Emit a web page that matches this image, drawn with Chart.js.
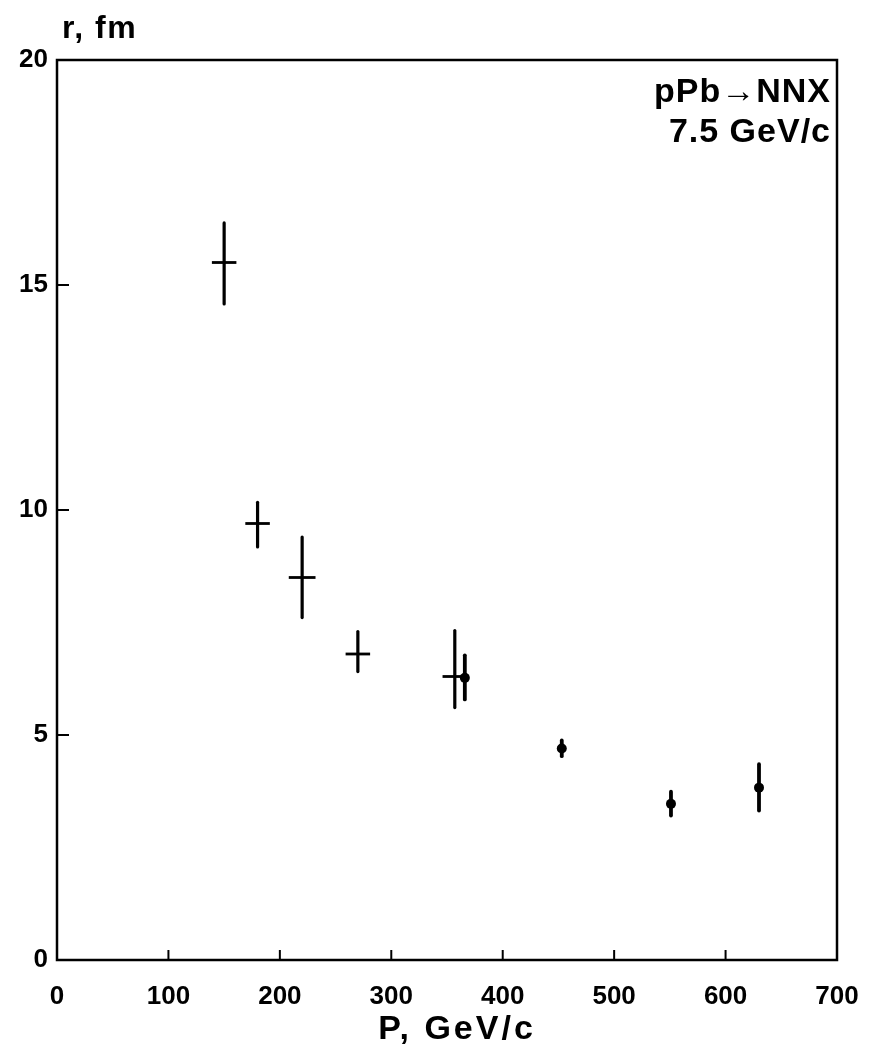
<html>
<head>
  <meta charset="UTF-8">
  <script src="https://cdn.jsdelivr.net/npm/chart.js@4.4.0/dist/chart.umd.min.js"></script>
  <style>
    body { margin: 0; background: #fff; }
    #wrap { width: 869px; height: 1055px; }
  </style>
</head>
<body>
  <div id="wrap"><canvas id="chart"></canvas></div>
  <script>
    // crosses (with momentum bin width)
    const crossP = [150, 180, 220, 270, 357];
    const crossR = [15.5, 9.7, 8.5, 6.8, 6.3];
    const crossUp = [0.88, 0.47, 0.9, 0.5, 1.02];
    const crossDown = [0.92, 0.52, 0.89, 0.39, 0.69];
    const crossPErr = [11, 11, 12, 11, 11];

    // filled dots
    const dotP = [366, 453, 551, 630];
    const dotR = [6.27, 4.7, 3.47, 3.83];
    const dotUp = [0.5, 0.18, 0.27, 0.52];
    const dotDown = [0.48, 0.17, 0.26, 0.51];

    const xTicks = [0, 100, 200, 300, 400, 500, 600, 700];
    const yTicks = [0, 5, 10, 15, 20];

    const ink = '#000';
    const fontFam = '"Liberation Sans", Arial, sans-serif';

    const toPts = (xs, ys) => xs.map((x, i) => ({ x: x, y: ys[i] }));

    const whiteBg = {
      id: 'whiteBg',
      beforeDraw(chart) {
        const c = chart.ctx;
        c.save();
        c.fillStyle = '#fff';
        c.fillRect(0, 0, chart.width, chart.height);
        c.restore();
      }
    };

    // frame, inward ticks, error bars and the text bits
    const extras = {
      id: 'extras',
      afterDatasetsDraw(chart) {
        const c = chart.ctx;
        const a = chart.chartArea;
        const xs = chart.scales.x, ys = chart.scales.y;
        c.save();
        c.strokeStyle = ink;
        c.lineWidth = 2.5;
        c.strokeRect(a.left, a.top, a.right - a.left, a.bottom - a.top);

        c.lineWidth = 2;
        xTicks.forEach(v => {
          const px = xs.getPixelForValue(v);
          c.beginPath(); c.moveTo(px, a.bottom); c.lineTo(px, a.bottom - 10); c.stroke();
        });
        yTicks.forEach(v => {
          const py = ys.getPixelForValue(v);
          c.beginPath(); c.moveTo(a.left, py); c.lineTo(a.left + 12, py); c.stroke();
        });

        // vertical errors
        c.lineWidth = 3.2;
        c.lineCap = 'round';
        crossP.forEach((p, i) => {
          const px = xs.getPixelForValue(p);
          c.beginPath();
          c.moveTo(px, ys.getPixelForValue(crossR[i] + crossUp[i]));
          c.lineTo(px, ys.getPixelForValue(crossR[i] - crossDown[i]));
          c.stroke();
        });
        c.lineWidth = 3.8;
        dotP.forEach((p, i) => {
          const px = xs.getPixelForValue(p);
          c.beginPath();
          c.moveTo(px, ys.getPixelForValue(dotR[i] + dotUp[i]));
          c.lineTo(px, ys.getPixelForValue(dotR[i] - dotDown[i]));
          c.stroke();
        });
        // horizontal bars on the crosses
        c.lineWidth = 2.8;
        c.lineCap = 'butt';
        crossP.forEach((p, i) => {
          const py = ys.getPixelForValue(crossR[i]);
          c.beginPath();
          c.moveTo(xs.getPixelForValue(p - crossPErr[i]), py);
          c.lineTo(xs.getPixelForValue(p + crossPErr[i]), py);
          c.stroke();
        });

        c.fillStyle = ink;
        c.textBaseline = 'alphabetic';
        c.letterSpacing = '1.5px';
        c.font = 'bold 32px ' + fontFam;
        c.textAlign = 'left';
        c.fillText('r, fm', a.left + 5, a.top - 22);

        c.font = 'bold 34px ' + fontFam;
        c.textAlign = 'right';
        c.letterSpacing = '1px';
        c.fillText('pPb\u2192NNX', a.right - 6, a.top + 42);
        c.fillText('7.5 GeV/c', a.right - 6, a.top + 82);

        c.font = 'bold 34px ' + fontFam;
        c.textAlign = 'center';
        c.letterSpacing = '3px';
        c.fillText('P, GeV/c', (a.left + a.right) / 2 + 10, 1039);
        c.restore();
      }
    };

    new Chart(document.getElementById('chart'), {
      type: 'scatter',
      data: {
        datasets: [
          {
            label: 'dots',
            data: toPts(dotP, dotR),
            pointStyle: 'circle',
            pointRadius: 5,
            backgroundColor: ink,
            borderColor: ink,
            borderWidth: 0
          }
        ]
      },
      options: {
        responsive: true,
        maintainAspectRatio: false,
        animation: false,
        layout: { padding: { top: 60, right: 32, left: 0, bottom: 0 } },
        plugins: {
          legend: { display: false },
          tooltip: { enabled: false }
        },
        scales: {
          x: {
            type: 'linear',
            min: 0,
            max: 700,
            afterBuildTicks: s => { s.ticks = xTicks.map(v => ({ value: v })); },
            afterFit: s => { s.height = 95; s.paddingRight = 0; },
            grid: { display: false, drawTicks: false },
            border: { display: false },
            ticks: {
              color: ink,
              padding: 21,
              maxRotation: 0,
              font: { family: fontFam, size: 26, weight: 'bold' }
            }
          },
          y: {
            type: 'linear',
            min: 0,
            max: 20,
            afterBuildTicks: s => { s.ticks = yTicks.map(v => ({ value: v })); },
            afterFit: s => { s.width = 57; },
            grid: { display: false, drawTicks: false },
            border: { display: false },
            ticks: {
              color: ink,
              padding: 9,
              font: { family: fontFam, size: 26, weight: 'bold' }
            }
          }
        }
      },
      plugins: [whiteBg, extras]
    });
  </script>
</body>
</html>
